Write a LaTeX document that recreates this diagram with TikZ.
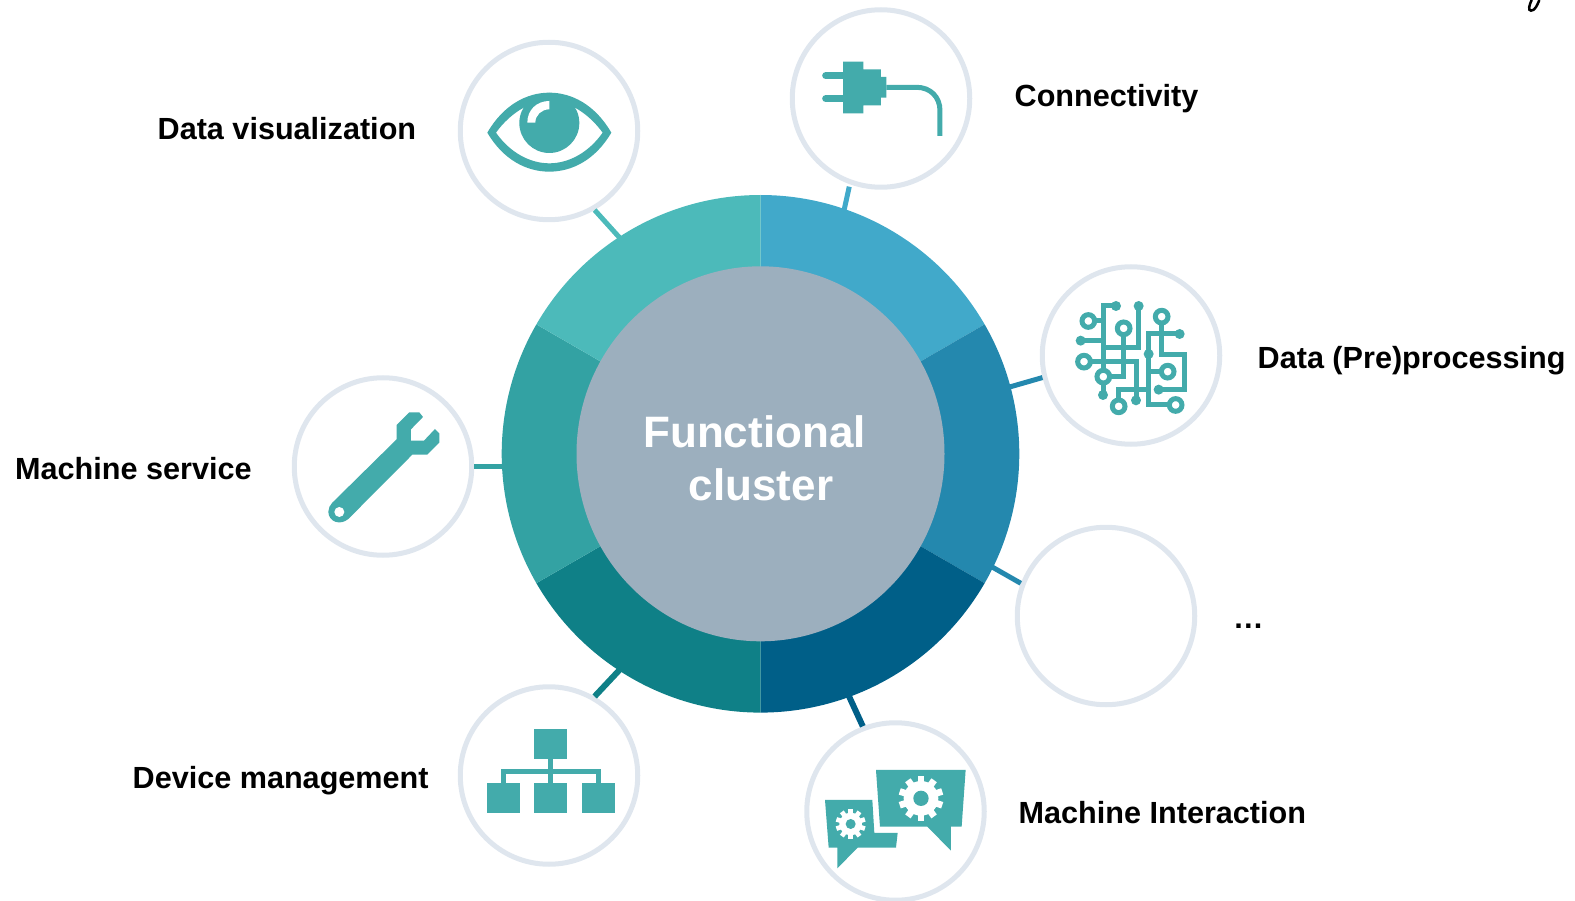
\documentclass[tikz,border=0pt]{standalone}
\usepackage{fontspec}
\setmainfont{Liberation Sans}
\usetikzlibrary{calc, shapes.geometric}

\definecolor{icongreen}{HTML}{43ABAB}
\definecolor{ringgrey}{HTML}{DFE6EE}
\definecolor{hubgrey}{HTML}{9CAFBE}
\definecolor{segconn}{HTML}{41A9CA}
\definecolor{segdata}{HTML}{2488AE}
\definecolor{seginter}{HTML}{005F88}
\definecolor{segdev}{HTML}{0F8087}
\definecolor{segserv}{HTML}{33A2A3}
\definecolor{segvis}{HTML}{4CBABA}

\tikzset{
    iconring/.style={circle, draw=ringgrey, line width=5pt, fill=white, minimum size=177.5pt, inner sep=0pt},
    clusterlabel/.style={anchor=base west, inner sep=0pt, font=\fontsize{30.6}{36}\selectfont\bfseries},
    hubword/.style={anchor=base, inner sep=0pt, text=white, font=\fontsize{44}{52}\selectfont\bfseries},
    tick/.style={line width=5pt},
    wire/.style={draw=icongreen, line width=5pt},
    pad/.style={draw=icongreen, line width=5pt, fill=white},
    zoomed/.style 2 args={shift={(#1,#2)}, x=0.3333pt, y=-0.3333pt}
}

% white cog: x, y, body radius, tip radius, hole radius, half tooth
\newcommand{\cogwheel}[6]{
    \fill[white] (#1,#2) circle (#3);
    \foreach \a in {0,36,...,324} {
        \begin{scope}[shift={(#1,#2)}, rotate=\a]
            \fill[white] (-#6,0) rectangle (#6,#4);
        \end{scope}
    }
    \fill[icongreen] (#1,#2) circle (#5);
}

\begin{document}
\begin{tikzpicture}[x=1pt, y=-1pt]
    \useasboundingbox (0,0) rectangle (1575,901);

    % Ring and outer circles
    \node[circle, minimum size=510pt, inner sep=0pt, outer sep=0pt] (ring) at (760.5,453.8) {};
    \node[iconring] (conn) at (881,98.5) {};
    \node[iconring] (data) at (1131,355.5) {};
    \node[iconring] (more) at (1106,616) {};
    \node[iconring] (inter) at (895.5,811.5) {};
    \node[iconring] (dev) at (549,775.5) {};
    \node[iconring] (serv) at (383,466.5) {};
    \node[iconring] (vis) at (549,131) {};

    % Ticks between ring and circles
    \draw[tick, segconn, shorten >=2.5pt] (ring.71.3) -- (conn.-110);
    \draw[tick, segdata] (ring.15) -- (data.-166);
    \draw[tick, segdata] (ring.-26) -- (more.159);
    \draw[tick, seginter, line width=6pt] (ring.-70) -- (inter.111);
    \draw[tick, segdev, line width=6pt] (ring.-123.5) -- (dev.60);
    \draw[tick, segserv] (serv.east) -- (serv -| ring.west);
    \draw[tick, segvis] (ring.123) -- (vis.-60);

    % Ring segments
    \begin{scope}[shift={(ring.center)}, y=1pt]
        \foreach \start/\shade in {30/segconn, -30/segdata, -90/seginter, -150/segdev, 150/segserv, 90/segvis} {
            \fill[\shade] (\start:258.8) arc (\start:\start+60:258.8) -- (\start+60:180) arc (\start+60:\start:180) -- cycle;
        }
    \end{scope}

    % Hub
    \node[ellipse, fill=hubgrey, minimum width=368pt, minimum height=375pt, inner sep=0pt] (hub) at (ring.center) {};
    \node[hubword] (hubtop) at (754.5,447) {Functional};
    \node[hubword] (hubbot) at (761,500) {cluster};

    % Labels
    \node[clusterlabel] (lblvis) at (157.5,139.5) {Data visualization};
    \node[clusterlabel] (lblconn) at (1014.5,106.5) {Connectivity};
    \node[clusterlabel] (lbldata) at (1257.5,368.5) {Data (Pre)processing};
    \node[clusterlabel] (lblmore) at (1233,628) {…};
    \node[clusterlabel] (lblinter) at (1018.5,823) {Machine Interaction};
    \node[clusterlabel] (lbldev) at (132.5,788.5) {Device management};
    \node[clusterlabel] (lblserv) at (15,479.5) {Machine service};

    % Plug
    \begin{scope}[zoomed={780}{0}]
        \fill[icongreen] (189,185) -- (250,185) -- (250,208) -- (303,208) -- (303,231) -- (319,231) -- (319,293) -- (303,293) -- (303,316) -- (250,316) -- (250,340) -- (189,340) -- cycle;
        \draw[icongreen, line width=7pt, line cap=round] (137,227) -- (195,227);
        \draw[icongreen, line width=7pt, line cap=round] (137,296) -- (195,296);
        \draw[icongreen, line width=5pt] (319,262) -- (410,262) .. controls (450,262) and (480,290) .. (480,332) -- (480,408);
    \end{scope}

    % Circuit
    \begin{scope}[zoomed={1030}{260}]
        \draw[wire] (258,138) -- (220,138) -- (220,405);
        \draw[wire] (175,183) -- (220,183);
        \draw[wire] (152,242) -- (220,242);
        \draw[wire] (220,262) -- (326,262) -- (326,138);
        \draw[wire] (281,205) -- (281,350) -- (220,350);
        \draw[wire] (162,305) -- (320,305) -- (320,389);
        \draw[wire] (395,170) -- (395,283) -- (465,283) -- (465,389) -- (386,389);
        \draw[wire] (449,222) -- (356,222) -- (356,435) -- (437,435);
        \draw[wire] (356,335) -- (413,335);
        \draw[wire] (266,439) -- (266,389) -- (356,389);
        \draw[wire] (318,389) -- (318,421);
        \foreach \px/\py in {175/183, 395/170, 281/205, 162/305, 220/350, 413/335, 266/439, 437/435} {
            \draw[pad] (\px,\py) circle (19);
        }
        \foreach \px/\py in {258/138, 326/138, 449/222, 152/242, 356/282, 386/389, 219/405, 318/421} {
            \fill[icongreen] (\px,\py) circle (15);
        }
    \end{scope}

    % Chat bubbles
    \begin{scope}[zoomed={795}{700}]
        \fill[icongreen] (243,210) -- (512,210) -- (500,380) -- (468,380) -- (468,452) -- (397,380) -- (255,380) -- cycle;
        \fill[icongreen] (90,300) -- (232,300) -- (238,399) -- (308,399) -- (303,443) -- (188,443) -- (127,505) -- (127,443) -- (101,443) -- cycle;
        \cogwheel{378}{295}{52}{67}{23}{10}
        \cogwheel{167}{372}{34}{45}{15}{7}
    \end{scope}

    % Network
    \begin{scope}[zoomed={450}{680}]
        \fill[icongreen] (253,147) rectangle (351,238);
        \fill[icongreen] (110,308) rectangle (209,400);
        \fill[icongreen] (253,308) rectangle (351,400);
        \fill[icongreen] (396,308) rectangle (494,400);
        \draw[icongreen, line width=5pt] (160,308) -- (160,275) -- (446,275) -- (446,308);
        \draw[icongreen, line width=5pt] (302,238) -- (302,308);
    \end{scope}

    % Wrench
    \begin{scope}[zoomed={285}{370}]
        \fill[icongreen] (335,208) -- (335,165) -- (373,127) -- (403,127) -- (414,141) -- (378,178) -- (378,212) -- (417,212) -- (450,177) -- (463,190) -- (463,218) -- (427,254) -- (382,254) -- (190,447) .. controls (165,468) and (130,455) .. (130,425) .. controls (130,415) and (135,405) .. (142,398) -- cycle;
        \fill[white] (163,426) circle (15);
    \end{scope}

    % Eye
    \begin{scope}[zoomed={450}{30}]
        \fill[icongreen, even odd rule] (112,308) .. controls (160,225) and (230,188) .. (298,188) .. controls (366,188) and (436,225) .. (484,308) .. controls (436,390) and (366,425) .. (298,425) .. controls (230,425) and (160,390) .. (112,308) -- cycle
            (138,308) .. controls (180,250) and (240,212) .. (298,212) .. controls (356,212) and (416,250) .. (458,308) .. controls (416,368) and (356,400) .. (298,400) .. controls (240,400) and (180,368) .. (138,308) -- cycle;
        \fill[icongreen] (298,279) circle (90);
        \fill[white] (298,213) .. controls (260,213) and (232,240) .. (232,278) -- (256,278) .. controls (256,255) and (275,238) .. (298,238) -- cycle;
    \end{scope}

    % Clipped mark at the top edge
    \begin{scope}[zoomed={1480}{0}]
        \draw[black, line width=2.5pt] (178,0) .. controls (172,15) and (165,32) .. (153,32) .. controls (143,32) and (148,15) .. (155,0);
    \end{scope}
\end{tikzpicture}
\end{document}
